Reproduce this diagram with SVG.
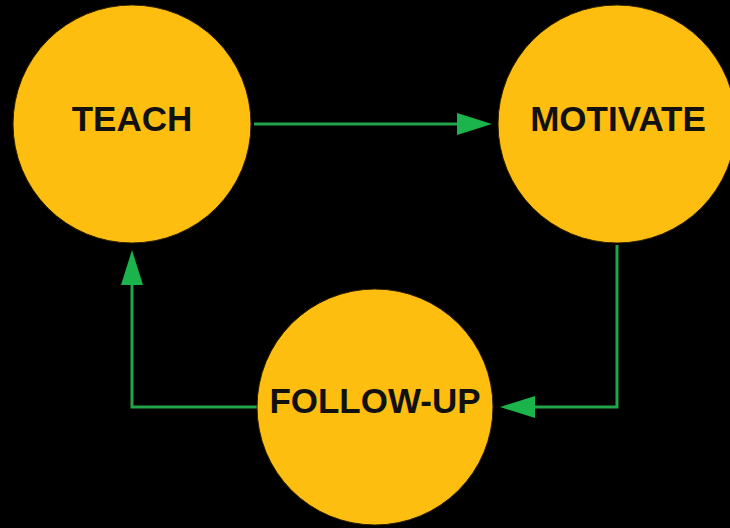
<svg xmlns="http://www.w3.org/2000/svg" width="730" height="528" viewBox="0 0 730 528">
<style>
.node{fill:#fdbe10;stroke:#2a1e00;stroke-width:1}
.lbl{font-family:"Liberation Sans",Arial,sans-serif;font-weight:bold;font-size:35px;fill:#111;text-anchor:middle}
.edge{fill:none;stroke:#22a54a;stroke-width:3}
.head{fill:#1bb34b}
</style>
<rect width="730" height="528" fill="#000"/>
<g id="connectors">
<path class="edge" d="M254,124 L458,124"/>
<polygon class="head" points="457,113 492,124 457,135"/>
<path class="edge" d="M617,245 L617,407 L534,407"/>
<polygon class="head" points="535,396 500,407 535,418"/>
<path class="edge" d="M257,407 L132,407 L132,284"/>
<polygon class="head" points="121,285 132,250 143,285"/>
</g>
<g id="teach">
<circle class="node" cx="132" cy="124" r="119"/>
<text class="lbl" x="132" y="131">TEACH</text>
</g>
<g id="motivate">
<circle class="node" cx="617" cy="124" r="119"/>
<text class="lbl" x="618" y="131">MOTIVATE</text>
</g>
<g id="follow-up">
<circle class="node" cx="375" cy="407" r="118"/>
<text class="lbl" x="375" y="413">FOLLOW-UP</text>
</g>
</svg>
